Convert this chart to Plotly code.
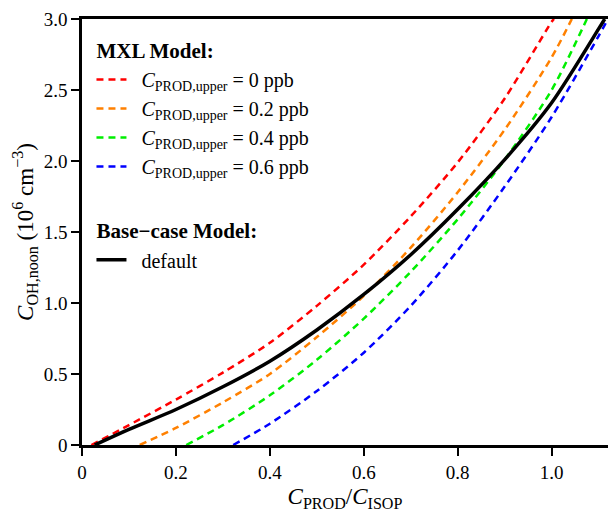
import plotly.graph_objects as go

# ---- data ----
x_red = [0.02, 0.1, 0.2, 0.3, 0.4, 0.5, 0.6, 0.7, 0.8, 0.9, 1.0, 1.005]
y_red = [0.0, 0.14, 0.32, 0.51, 0.72, 0.98, 1.27, 1.61, 1.99, 2.44, 2.98, 3.0]

x_orange = [0.123, 0.2, 0.3, 0.4, 0.5, 0.6, 0.7, 0.8, 0.9, 1.0, 1.043]
y_orange = [0.0, 0.12, 0.30, 0.50, 0.76, 1.05, 1.39, 1.78, 2.22, 2.73, 3.0]

x_green = [0.222, 0.3, 0.4, 0.5, 0.6, 0.7, 0.8, 0.9, 1.0, 1.075]
y_green = [0.0, 0.14, 0.35, 0.60, 0.89, 1.22, 1.59, 2.01, 2.50, 3.0]

x_blue = [0.322, 0.4, 0.5, 0.6, 0.7, 0.8, 0.9, 1.0, 1.1, 1.12]
y_blue = [0.0, 0.15, 0.38, 0.65, 0.98, 1.37, 1.82, 2.31, 2.88, 3.0]

x_black = [0.027, 0.1, 0.2, 0.3, 0.4, 0.5, 0.6, 0.7, 0.8, 0.9, 1.0, 1.1, 1.113]
y_black = [0.0, 0.11, 0.25, 0.41, 0.59, 0.81, 1.06, 1.34, 1.66, 2.01, 2.41, 2.93, 3.0]

mxl_labels = ["0", "0.2", "0.4", "0.6"]
mxl_colors = ["#ff0000", "#ff8000", "#00ee00", "#0000ff"]

x_tickvals = [0, 0.2, 0.4, 0.6, 0.8, 1.0]
x_ticktext = ["0", "0.2", "0.4", "0.6", "0.8", "1.0"]
y_tickvals = [0, 0.5, 1.0, 1.5, 2.0, 2.5, 3.0]
y_ticktext = ["0", "0.5", "1.0", "1.5", "2.0", "2.5", "3.0"]

FONT = "Liberation Serif"
LEG = 20
PAD = "\u00a0\u00a0"

fig = go.Figure()
series = [(x_red, y_red), (x_orange, y_orange), (x_green, y_green), (x_blue, y_blue)]
for (xs, ys), lab, col in zip(series, mxl_labels, mxl_colors):
    fig.add_trace(go.Scatter(
        x=xs, y=ys, mode="lines",
        line=dict(color=col, width=2.5, dash="7px,5px", shape="spline", smoothing=0.8),
        name=f"{PAD}<i>C</i><sub>PROD,upper</sub> = {lab} ppb",
        legendgroup="mxl",
        legendgrouptitle=dict(text="<b>MXL Model:</b>", font=dict(family=FONT, size=LEG + 1, color="black")),
    ))

fig.add_trace(go.Scatter(
    x=x_black, y=y_black, mode="lines",
    line=dict(color="black", width=3.5, shape="spline", smoothing=0.8),
    name=f"{PAD}default",
    legendgroup="base",
    legendgrouptitle=dict(text="<b>Base\u2212case Model:</b>", font=dict(family=FONT, size=LEG + 1, color="black")),
))

fig.update_layout(
    width=608, height=512,
    margin=dict(l=82, r=0, t=19, b=67),
    paper_bgcolor="white", plot_bgcolor="white",
    font=dict(family=FONT, size=19, color="black"),
    showlegend=True,
    legend=dict(
        x=0.018, y=0.975, xanchor="left", yanchor="top",
        bgcolor="rgba(0,0,0,0)", traceorder="grouped",
        tracegroupgap=34, font=dict(family=FONT, size=LEG, color="black"),
    ),
    xaxis=dict(
        range=[0, 1.12], tickvals=x_tickvals, ticktext=x_ticktext,
        showgrid=False, zeroline=False,
        showline=True, linecolor="black", linewidth=2.5, mirror=True,
        ticks="outside", ticklen=8, tickwidth=2, tickcolor="black",
        title=dict(text="<i>C</i><sub>PROD</sub>/<i>C</i><sub>ISOP</sub>", standoff=12),
    ),
    yaxis=dict(
        range=[0, 3.0], tickvals=y_tickvals, ticktext=y_ticktext,
        showgrid=False, zeroline=False,
        showline=True, linecolor="black", linewidth=2.5, mirror=False,
        ticks="outside", ticklen=8, tickwidth=2, tickcolor="black",
        title=dict(text="<i>C</i><sub>OH,noon</sub> (10<sup>6</sup> cm<sup>\u22123</sup>)",
                   standoff=4, font=dict(family=FONT, size=23, color="black")),
    ),
)

fig.write_html("out.html", config={"displayModeBar": False},
               post_script="document.body.style.margin='0';document.body.style.overflow='hidden';")
